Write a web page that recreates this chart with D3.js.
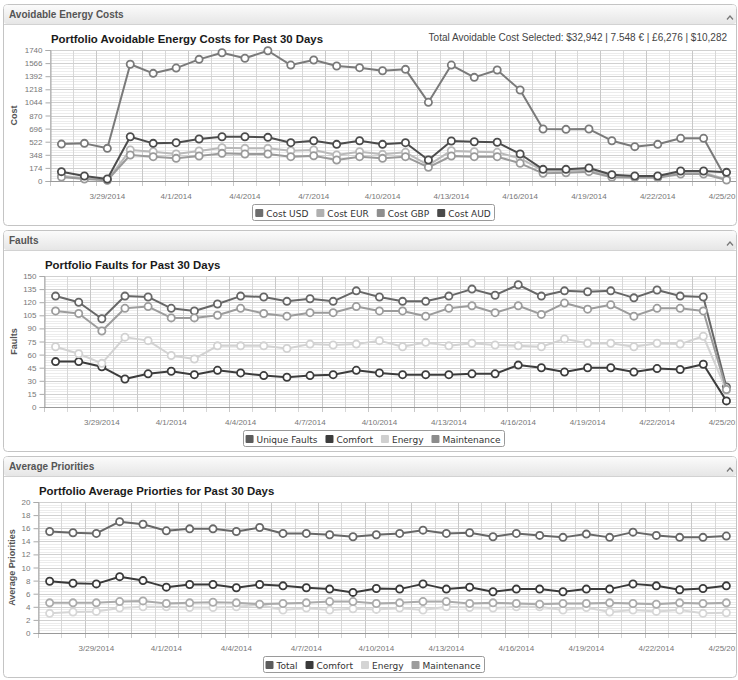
<!DOCTYPE html>
<html>
<head>
<meta charset="utf-8">
<script src="https://cdn.jsdelivr.net/npm/d3@7"></script>
<style>
  body { margin: 0; background: #ffffff; }
  svg { display: block; font-family: "Liberation Sans", Arial, sans-serif; }
</style>
</head>
<body>
<svg id="dash" width="738" height="680"></svg>
<script>
// ---- data -------------------------------------------------------------
const days = [
  "2014-03-27","2014-03-28","2014-03-29","2014-03-30","2014-03-31",
  "2014-04-01","2014-04-02","2014-04-03","2014-04-04","2014-04-05",
  "2014-04-06","2014-04-07","2014-04-08","2014-04-09","2014-04-10",
  "2014-04-11","2014-04-12","2014-04-13","2014-04-14","2014-04-15",
  "2014-04-16","2014-04-17","2014-04-18","2014-04-19","2014-04-20",
  "2014-04-21","2014-04-22","2014-04-23","2014-04-24","2014-04-25"
];
const dateTickLabels = ["3/29/2014","4/1/2014","4/4/2014","4/7/2014","4/10/2014",
                        "4/13/2014","4/16/2014","4/19/2014","4/22/2014","4/25/2014"];

const costTicks = [0,174,348,522,696,870,1044,1218,1392,1566,1740];
const costUSD = [490,500,434,1550,1430,1500,1616,1704,1630,1730,1540,1607,1527,1505,1465,
                 1483,1045,1540,1377,1474,1208,690,686,690,535,456,487,567,567,20];
const costEUR = [70,35,13,412,389,359,398,442,434,434,403,412,345,389,354,
                 381,212,403,389,381,301,137,137,146,66,57,57,110,110,22];
const costGBP = [53,25,10,345,323,301,332,367,359,359,323,336,279,323,301,
                 323,182,332,323,323,235,102,110,124,49,44,44,93,93,13];
const costAUD = [124,66,27,588,500,509,558,588,588,580,509,535,487,535,487,
                 509,279,531,522,514,359,155,155,173,84,66,66,133,133,115];
const costSummary = "Total Avoidable Cost Selected: $32,942 | 7.548 € | £6,276 | $10,282";

const faultTicks = [0,15,30,45,60,75,90,105,120,135,150];
const faultsUnique = [127,120,101,127,126,113,110,118,127,126,121,124,121,133,126,
                      121,121,127,135,128,140,127,133,132,133,125,134,127,126,23];
const faultsComfort = [52,52,46,32,38,41,37,42,39,36,34,36,37,42,39,
                       37,37,37,38,38,48,45,40,45,45,40,44,43,49,7];
const faultsEnergy = [69,61,50,80,76,59,55,70,70,70,67,72,71,72,76,
                      69,74,70,73,71,70,69,78,73,73,69,73,72,81,19];
const faultsMaintenance = [110,107,87,113,115,102,102,105,113,107,104,108,108,115,110,
                           110,104,113,116,108,116,106,119,112,117,104,113,113,110,20];

const priorityTicks = [0,2,4,6,8,10,12,14,16,18,20];
const priorityTotal = [15.5,15.3,15.2,17.0,16.6,15.6,15.9,15.9,15.5,16.1,15.2,15.2,15.0,14.7,15.0,
                       15.2,15.7,15.2,15.3,14.7,15.2,14.9,14.6,15.1,14.6,15.4,14.9,14.6,14.6,14.8];
const priorityComfort = [7.9,7.6,7.5,8.6,8.0,7.0,7.4,7.4,6.9,7.4,7.2,6.9,6.7,6.2,6.8,
                         6.7,7.5,6.7,7.0,6.3,6.7,6.7,6.3,6.7,6.7,7.5,7.2,6.6,6.8,7.2];
const priorityEnergy = [3.0,3.2,3.3,3.8,4.0,4.0,3.9,3.9,4.0,4.3,3.5,3.8,3.5,3.7,3.6,
                        3.8,3.5,4.0,3.9,3.8,4.0,4.0,3.5,3.9,3.2,3.5,3.3,3.5,3.0,3.1];
const priorityMaintenance = [4.6,4.6,4.6,4.8,4.9,4.5,4.6,4.7,4.6,4.4,4.5,4.6,4.8,4.8,4.5,
                             4.6,4.8,4.8,4.5,4.6,4.5,4.4,4.5,4.5,4.6,4.5,4.4,4.6,4.5,4.6];

// ---- drawing ----------------------------------------------------------
const svg = d3.select("#dash");
const defs = svg.append("defs");
const parseDay = d3.utcParse("%Y-%m-%d");
const parseTick = d3.utcParse("%m/%d/%Y");
const DAY = 864e5;
const dayDates = days.map(parseDay);
const PLOT_RIGHT = 738;

const hdrGrad = defs.append("linearGradient").attr("id", "hdrGrad")
  .attr("x1", 0).attr("y1", 0).attr("x2", 0).attr("y2", 1);
hdrGrad.append("stop").attr("offset", "0%").attr("stop-color", "#fbfbfb");
hdrGrad.append("stop").attr("offset", "100%").attr("stop-color", "#e6e6e6");

function drawPanel(cfg) {
  const T = cfg.top;
  const g = svg.append("g");

  // container box and header bar
  g.append("rect").attr("x", 3.5).attr("y", T + 0.5).attr("width", 733).attr("height", 221)
    .attr("rx", 4).attr("fill", "#fff").attr("stroke", "#c4c4c4");
  g.append("rect").attr("x", 4).attr("y", T + 1).attr("width", 732).attr("height", 19)
    .attr("rx", 3).attr("fill", "url(#hdrGrad)");
  g.append("line").attr("x1", 4).attr("x2", 736).attr("y1", T + 20.5).attr("y2", T + 20.5)
    .attr("stroke", "#d2d2d2");
  g.append("text").attr("x", 9).attr("y", T + 14).attr("font-size", 10).attr("font-weight", "bold")
    .attr("fill", "#555").text(cfg.header);
  g.append("path").attr("d", `M727,${T + 15.5} L730,${T + 12} L733,${T + 15.5}`)
    .attr("fill", "none").attr("stroke", "#777").attr("stroke-width", 1.2);

  const clipId = "clip" + cfg.key;
  defs.append("clipPath").attr("id", clipId).append("rect")
    .attr("x", 4).attr("y", T + 21).attr("width", 732).attr("height", 200);
  const body = g.append("g").attr("clip-path", `url(#${clipId})`);

  const top = T + 46, bottom = T + 177, left = cfg.left;
  const x = d3.scaleUtc()
    .domain([new Date(+dayDates[0] - DAY / 2), new Date(+dayDates[dayDates.length - 1] + DAY / 2)])
    .range([left, PLOT_RIGHT]);
  const y = d3.scaleLinear().domain([cfg.ticks[0], cfg.ticks[cfg.ticks.length - 1]]).range([bottom, top]);

  // title and optional summary
  body.append("text").attr("x", left + 1).attr("y", T + 39).attr("font-size", 11.4)
    .attr("font-weight", "bold").attr("fill", "#1a1a1a").text(cfg.title);
  if (cfg.summary) {
    body.append("text").attr("x", 727).attr("y", T + 37).attr("text-anchor", "end")
      .attr("font-size", 10).attr("fill", "#444").text(cfg.summary);
  }

  // minor horizontal grid (5 per major step)
  const step = cfg.ticks[1] - cfg.ticks[0];
  const minor = [];
  for (let k = 0; k < cfg.ticks.length - 1; k++)
    for (let m = 1; m < 5; m++) minor.push(cfg.ticks[k] + step * m / 5);
  body.append("g").selectAll("line").data(minor).join("line")
    .attr("x1", left).attr("x2", PLOT_RIGHT)
    .attr("y1", d => Math.round(y(d)) + 0.5).attr("y2", d => Math.round(y(d)) + 0.5)
    .attr("stroke", "#ececec");

  // vertical day grid lines, between the daily points
  const bounds = d3.range(dayDates.length + 1).map(i => new Date(+dayDates[0] + (i - 0.5) * DAY));
  body.append("g").selectAll("line").data(bounds).join("line")
    .attr("x1", d => Math.round(x(d)) + 0.5).attr("x2", d => Math.round(x(d)) + 0.5)
    .attr("y1", top).attr("y2", bottom + 5)
    .attr("stroke", (d, i) => i % 2 === 0 ? "#c8c8c8" : "#d8d8d8");

  // major horizontal grid
  body.append("g").selectAll("line").data(cfg.ticks).join("line")
    .attr("x1", left).attr("x2", PLOT_RIGHT)
    .attr("y1", d => Math.round(y(d)) + 0.5).attr("y2", d => Math.round(y(d)) + 0.5)
    .attr("stroke", "#d0d0d0");

  // y axis
  const yAxis = d3.axisLeft(y).tickValues(cfg.ticks).tickSize(5).tickPadding(3)
    .tickFormat(d3.format("d"));
  const ya = body.append("g").attr("transform", `translate(${Math.round(left) + 0.5},0)`).call(yAxis);
  ya.select(".domain").attr("stroke", "#aaa");
  ya.selectAll(".tick line").attr("stroke", "#aaa");
  ya.selectAll(".tick text").attr("font-family", "'Liberation Sans', Arial, sans-serif")
    .attr("font-size", 8).attr("fill", "#777");

  // x axis: tick marks on day boundaries, labels every third day
  const xa = body.append("g").attr("transform", `translate(0,${bottom + 0.5})`);
  xa.append("line").attr("x1", left).attr("x2", PLOT_RIGHT).attr("stroke", "#999");
  const labelDates = dateTickLabels.map(parseTick);
  xa.selectAll("text").data(labelDates).join("text")
    .attr("x", d => x(d)).attr("y", 17).attr("text-anchor", "middle")
    .attr("font-size", 8).attr("fill", "#777")
    .text((d, i) => dateTickLabels[i]);

  // y axis title
  body.append("text")
    .attr("transform", `translate(${cfg.yTitleX},${(top + bottom) / 2}) rotate(-90)`)
    .attr("text-anchor", "middle").attr("font-size", 9).attr("font-weight", "bold")
    .attr("fill", "#555").text(cfg.yTitle);

  // series lines and markers
  const line = d3.line().x((d, i) => x(dayDates[i])).y(d => y(d));
  cfg.series.forEach(s => {
    const sg = body.append("g");
    sg.append("path").datum(s.values).attr("d", line).attr("fill", "none")
      .attr("stroke", s.color).attr("stroke-width", 2).attr("stroke-linejoin", "round");
    sg.selectAll("circle").data(s.values).join("circle")
      .attr("cx", (d, i) => x(dayDates[i])).attr("cy", d => y(d)).attr("r", 3.6)
      .attr("fill", "#fff").attr("stroke", s.color).attr("stroke-width", 1.8);
  });

  // legend
  const lg = body.append("g");
  const items = lg.selectAll("g").data(cfg.series).join("g");
  items.append("rect").attr("width", 8).attr("height", 8).attr("rx", 1)
    .attr("fill", d => d.swatch || d.color);
  items.append("text").attr("x", 11).attr("y", 7.5)
    .attr("font-family", "'DejaVu Sans', Verdana, sans-serif").attr("font-size", 9)
    .attr("fill", "#333").text(d => d.name);
  let cx = 0;
  const widths = [];
  items.each(function () {
    const w = 11 + d3.select(this).select("text").node().getComputedTextLength();
    widths.push(w);
  });
  const gap = 8, pad = 3;
  const total = d3.sum(widths) + gap * (widths.length - 1) + pad * 2;
  const lx = 373 - total / 2, ly = T + 209;
  lg.insert("rect", ":first-child").attr("x", Math.round(lx) + 0.5).attr("y", ly - 8.5)
    .attr("width", Math.round(total)).attr("height", 16).attr("rx", 2)
    .attr("fill", "#fff").attr("stroke", "#9a9a9a");
  cx = lx + pad;
  items.attr("transform", (d, i) => {
    const t = `translate(${cx},${ly - 4})`;
    cx += widths[i] + gap;
    return t;
  });
}

drawPanel({
  key: "cost", top: 4, left: 50, header: "Avoidable Energy Costs",
  title: "Portfolio Avoidable Energy Costs for Past 30 Days", summary: costSummary,
  ticks: costTicks, yTitle: "Cost", yTitleX: 17,
  series: [
    { name: "Cost USD", values: costUSD, color: "#7a7a7a", swatch: "#6e6e6e" },
    { name: "Cost EUR", values: costEUR, color: "#b9b9b9", swatch: "#b0b0b0" },
    { name: "Cost GBP", values: costGBP, color: "#9a9a9a", swatch: "#8e8e8e" },
    { name: "Cost AUD", values: costAUD, color: "#4c4c4c", swatch: "#4a4a4a" }
  ]
});

drawPanel({
  key: "faults", top: 230, left: 44, header: "Faults",
  title: "Portfolio Faults for Past 30 Days",
  ticks: faultTicks, yTitle: "Faults", yTitleX: 17,
  series: [
    { name: "Unique Faults", values: faultsUnique, color: "#676767", swatch: "#5c5c5c" },
    { name: "Comfort", values: faultsComfort, color: "#3c3c3c", swatch: "#3c3c3c" },
    { name: "Energy", values: faultsEnergy, color: "#d2d2d2", swatch: "#d0d0d0" },
    { name: "Maintenance", values: faultsMaintenance, color: "#9c9c9c", swatch: "#8c8c8c" }
  ]
});

drawPanel({
  key: "prio", top: 456, left: 38, header: "Average Priorities",
  title: "Portfolio Average Priorties for Past 30 Days",
  ticks: priorityTicks, yTitle: "Average Priorities", yTitleX: 15,
  series: [
    { name: "Total", values: priorityTotal, color: "#676767", swatch: "#5c5c5c" },
    { name: "Comfort", values: priorityComfort, color: "#3a3a3a", swatch: "#3a3a3a" },
    { name: "Energy", values: priorityEnergy, color: "#d6d6d6", swatch: "#d4d4d4" },
    { name: "Maintenance", values: priorityMaintenance, color: "#ababab", swatch: "#9c9c9c" }
  ]
});
</script>
</body>
</html>
